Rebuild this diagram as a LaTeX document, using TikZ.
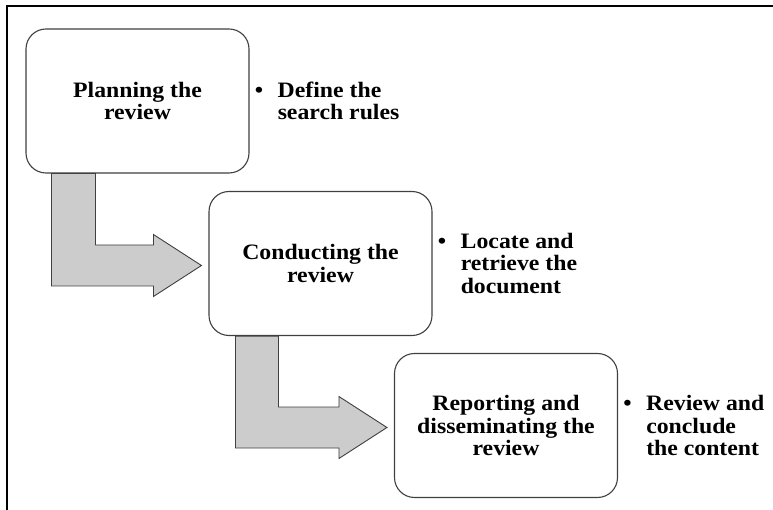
\documentclass[tikz,border=0pt]{standalone}
\usepackage{fontspec}
\setmainfont{Liberation Serif}[FakeStretch=1.08]
\usetikzlibrary{calc}

\tikzset{
  stage/.style={draw=black!75, line width=1.1pt, fill=white, rounded corners=20pt,
    minimum width=223pt, minimum height=144pt, align=center, inner sep=0pt,
    font=\fontsize{22}{22.5}\selectfont\bfseries},
  note/.style={anchor=west, align=left, inner sep=0pt,
    font=\fontsize{22}{22.5}\selectfont\bfseries},
  blockarrow/.style={draw=black!75, line width=0.9pt, fill=black!20, line join=miter},
  frame/.style={line width=2.2pt}
}
\newcommand{\bulletline}[1]{\makebox[23pt][l]{\textbullet}#1}
\newcommand{\indentline}[1]{\hspace*{23pt}#1}

\begin{document}
\begin{tikzpicture}[x=1pt,y=-1pt]
  \useasboundingbox (0,0) rectangle (773,510);
  % Frame
  \draw[frame] (7,512) -- (7,6) -- (775,6);
  % Stages
  \node[stage] (plan) at (137.5,101) {Planning the\\review};
  \node[stage] (conduct) at (320.5,263.5) {Conducting the\\review};
  \node[stage] (report) at (506,425.5) {Reporting and\\disseminating the\\review};
  % Notes beside each stage
  \node[note] (planNote) at ($(plan.east)+(5,0)$)
    {\bulletline{Define the}\\\indentline{search rules}};
  \node[note] (conductNote) at ($(conduct.east)+(5,0)$)
    {\bulletline{Locate and}\\\indentline{retrieve the}\\\indentline{document}};
  \node[note] (reportNote) at ($(report.east)+(5,0)$)
    {\bulletline{Review and}\\\indentline{conclude}\\\indentline{the content}};
  % Elbow arrows between stages
  \draw[blockarrow] ($(plan.south west)+(26,0)$) |- ($(conduct.west)+(-55,22.5)$)
    -- ++(0,10.5) -- ($(conduct.west)+(-7,2)$) -- ($(conduct.west)+(-55,-29)$)
    -- ++(0,10.5) -| ($(plan.south west)+(70,0)$) -- cycle;
  \draw[blockarrow] ($(conduct.south west)+(27,0)$) |- ($(report.west)+(-55,22.5)$)
    -- ++(0,10.5) -- ($(report.west)+(-7,2)$) -- ($(report.west)+(-55,-29)$)
    -- ++(0,10.5) -| ($(conduct.south west)+(70,0)$) -- cycle;
\end{tikzpicture}
\end{document}
